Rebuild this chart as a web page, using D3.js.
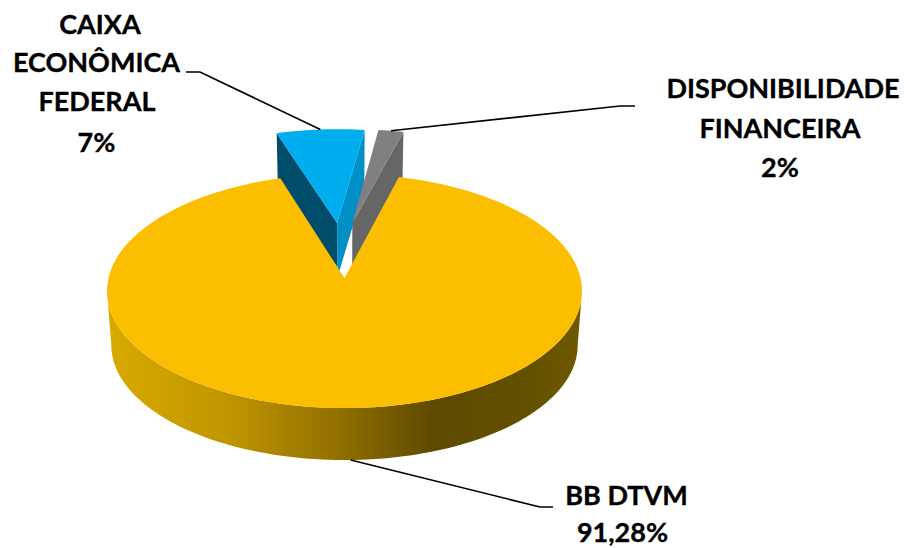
<!DOCTYPE html>
<html>
<head>
<meta charset="utf-8">
<title>Pie</title>
<script src="https://cdn.jsdelivr.net/npm/d3@7"></script>
<style>
  html, body { margin: 0; padding: 0; background: #fff; }
  text { font-family: Lato, "Noto Sans", sans-serif; font-weight: 700; fill: #000; stroke: #000; stroke-width: 0.35; text-anchor: middle; }
</style>
</head>
<body>
<svg id="chart" width="904" height="548"></svg>
<script>
// data
const categories = ["BB DTVM", "CAIXA ECONÔMICA FEDERAL", "DISPONIBILIDADE FINANCEIRA"]
const values = [91.28, 7, 2]
const labelLines = [["BB DTVM"], ["CAIXA", "ECONÔMICA", "FEDERAL"], ["DISPONIBILIDADE", "FINANCEIRA"]]

// look of each slice
const topColors = ["#fcbe00", "#00adef", "#808080"]
const leftFaceColors = [null, "#004c6b", null]
const rightFaceColors = [null, "#0090c6", "#666666"]
const explode = [[0, 0], [-0.033, -0.502], [0.035, -0.502]]
// x, y of every label line
const labelPos = [
  [[626.5, 505], [622.5, 542]],
  [[100, 34], [96.5, 72], [97, 111], [96.5, 152]],
  [[783, 98], [780, 138], [780, 177]]
]
const leaderBends = [[[540, 507], [553, 507]], [[200, 72], [186, 72]], [[620, 106], [635, 106]]]

// the perspective of the disc
const cx = 344.5, cy = 278
const R = 236, A = 115.6, k = 1 / 9
const depth = 54.3, bottomScale = 0.982

function project(u, v, low) {
  const s = low ? bottomScale : 1
  const d = 1 - k * v
  return [cx + s * R * u / d, cy + (low ? depth : 0) + s * A * v / d]
}

const svg = d3.select("#chart")
const start = 14.8 * Math.PI / 180
const pie = d3.pie().sort(null).startAngle(start).endAngle(start + 2 * Math.PI)
const arcs = pie(values)

const line = d3.line()

function rim(i, a, low) {
  const o = explode[i]
  return project(o[0] + Math.sin(a), o[1] - Math.cos(a), low)
}
function apex(i, low) {
  return project(explode[i][0], explode[i][1], low)
}
function arcPoints(i, a0, a1, low) {
  const n = Math.max(4, Math.ceil(Math.abs(a1 - a0) * 40))
  return d3.range(n + 1).map(j => rim(i, a0 + (a1 - a0) * j / n, low))
}

// gold rim gradient
const grad = svg.append("defs").append("linearGradient")
  .attr("id", "rimGold")
  .attr("gradientUnits", "userSpaceOnUse")
  .attr("x1", 107).attr("x2", 582).attr("y1", 0).attr("y2", 0)
const stops = [[0, "#d9aa00"], [0.25, "#c09600"], [0.5, "#8e6e00"], [0.68, "#5f4a00"], [0.88, "#625000"], [1, "#705800"]]
stops.forEach(s => grad.append("stop").attr("offset", s[0]).attr("stop-color", s[1]))

// cut faces of the two small slices, then their tops
arcs.forEach((d, i) => {
  if (i == 0) return
  if (leftFaceColors[i]) {
    svg.append("path")
      .attr("d", line([rim(i, d.startAngle, false), apex(i, false), apex(i, true), rim(i, d.startAngle, true)]) + "Z")
      .attr("fill", leftFaceColors[i])
  }
  svg.append("path")
    .attr("d", line([rim(i, d.endAngle, false), apex(i, false), apex(i, true), rim(i, d.endAngle, true)]) + "Z")
    .attr("fill", rightFaceColors[i])
  svg.append("path")
    .attr("d", line([apex(i, false)].concat(arcPoints(i, d.startAngle, d.endAngle, false))) + "Z")
    .attr("fill", topColors[i])
})

// big slice: side wall and top. the wall starts where the disc is widest
const wallFrom = Math.acos(-k), wallTo = 2 * Math.PI - wallFrom
svg.append("path")
  .attr("d", line(arcPoints(0, wallFrom, wallTo, false).concat(arcPoints(0, wallTo, wallFrom, true))) + "Z")
  .attr("fill", "url(#rimGold)")
svg.append("path")
  .attr("d", line([apex(0, false)].concat(arcPoints(0, arcs[0].startAngle, arcs[0].endAngle, false))) + "Z")
  .attr("fill", topColors[0])

// leader lines
arcs.forEach((d, i) => {
  const mid = (d.startAngle + d.endAngle) / 2
  const from = rim(i, mid, i == 0)
  svg.append("path")
    .attr("d", line([from].concat(leaderBends[i])))
    .attr("fill", "none")
    .attr("stroke", "#000")
    .attr("stroke-width", 1.6)
})

// labels
categories.forEach((c, i) => {
  const lines = labelLines[i].concat(String(values[i]).replace(".", ",") + "%")
  const t = svg.append("text").attr("font-size", 27)
  lines.forEach((s, j) => {
    t.append("tspan")
      .attr("x", labelPos[i][j][0])
      .attr("y", labelPos[i][j][1])
      .text(s)
  })
})
</script>
</body>
</html>
